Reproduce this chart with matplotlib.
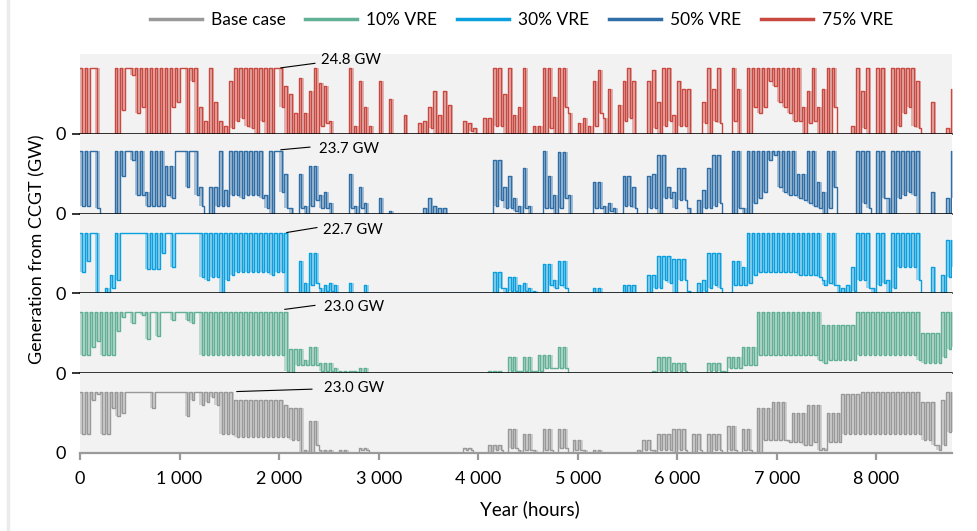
import numpy as np
import matplotlib
matplotlib.use('Agg')
import matplotlib.pyplot as plt
from matplotlib.lines import Line2D

HOURS_IN_YEAR = 8760
BIN_HOURS = 50

series_names = ['Base case', '10% VRE', '30% VRE', '50% VRE', '75% VRE']
peak_labels = ['23.0 GW', '23.0 GW', '22.7 GW', '23.7 GW', '24.8 GW']
x_ticks = [0, 1000, 2000, 3000, 4000, 5000, 6000, 7000, 8000]
x_tick_labels = ['0', '1 000', '2 000', '3 000', '4 000', '5 000', '6 000', '7 000', '8 000']

vre75_hi = ([24.8, 24.8, 24.8, 24.8, 0, 0, 0, 24.8, 24.8, 24.8, 24.8, 24.8, 24.8, 24.8, 24.8, 24.8, 24.8, 24.8, 24.8, 24.8, 24.8, 24.8, 24.8, 24.8, 10]
            + [5, 24.8, 12, 5, 3, 20, 24.8, 24.8, 24.8, 24.8, 24.8, 24.8, 24.8, 24.8, 24.8, 24.8, 18, 15, 8, 21, 8, 16, 24.8, 19, 18]
            + [5, 0, 0, 0, 24.8, 3, 20, 10, 3, 0, 20, 0, 13, 0, 0, 7, 0, 0, 4, 5, 10, 16, 7, 16, 11]
            + [0, 0, 5, 4, 2, 0, 6, 6, 24.8, 24.8, 15, 24.8, 7, 10, 24.8, 0, 3, 3, 24.8, 24.8, 14, 24.8, 24.8, 8, 0]
            + [4, 6, 3, 20, 24, 6, 17, 0, 11, 20, 24.8, 20, 0, 0, 20, 24, 12, 24.8, 24.8, 7, 20, 17, 17, 0, 0]
            + [12, 24.8, 17, 24.8, 0, 0, 24.8, 17, 0, 24.8, 24.8, 24.8, 24.8, 24.8, 24.8, 24.8, 24.8, 24.8, 24.8, 24.8, 10, 16, 24.8, 10, 17]
            + [24.8, 24.8, 0, 0, 0, 3, 24.8, 16, 24.8, 0, 24.8, 24.8, 0, 24.8, 24.8, 24.8, 24.8, 24.8, 20, 0, 0, 12, 0, 0, 2, 17])
vre75_lo = ([0, 0, 24.8, 0, 0, 0, 0, 0, 9, 24.8, 22, 8, 10, 0, 0, 0, 0, 0, 10, 12, 24.8, 0, 20, 0, 0]
            + [0, 0, 0, 0, 0, 2, 5, 6, 3, 2, 0, 5, 0, 0, 24.8, 10, 0, 0, 0, 0, 0, 0, 0, 3, 4]
            + [0, 0, 0, 0, 0, 0, 0, 0, 0, 0, 0, 0, 0, 0, 0, 0, 0, 0, 0, 0, 2, 0, 0, 0, 0]
            + [0, 0, 0, 1, 0, 0, 0, 0, 3, 3, 0, 0, 0, 0, 0, 0, 0, 0, 0, 2, 0, 0, 10, 0, 0]
            + [0, 0, 0, 3, 8, 0, 0, 0, 0, 5, 6, 0, 0, 0, 0, 2, 0, 3, 5, 0, 3, 3, 0, 0, 0]
            + [4, 0, 5, 4, 0, 0, 5, 0, 0, 0, 10, 8, 10, 20, 18, 12, 10, 8, 5, 5, 0, 4, 5, 0, 0]
            + [0, 10, 0, 0, 0, 0, 0, 2, 0, 0, 0, 0, 0, 0, 3, 8, 10, 3, 2, 0, 0, 0, 0, 0, 0, 0])

T = 23.7
vre50_hi = ([T, T, T, T, 0, 0, 0, T, T, T, T, T, T, 8, T, T, T, 18, 18, T, T, T, T, T, 10]
            + [0, 10, 10, T, 9, T, T, T, T, T, T, T, 7, T, T, T, 15, 2, 0, 15, 3, 18, 18, 7, 8]
            + [4, 0, 0, 0, 15, 3, 10, 4, 0, 0, 6, 0, 1, 0, 0, 0, 0, 0, 0, 2, 6, 3, 2, 2, 0]
            + [0, 0, 0, 0, 0, 0, 0, 0, 20, 20, 10, 14, 6, 3, 17, 3, 0, 0, T, 14, 7, 23, 23, 7, 0]
            + [0, 0, 0, 12, 12, 3, 4, 2, 0, 14, 14, 10, 0, 0, 14, 15, 22, 22, 10, 8, 17, 17, 2, 0, 5]
            + [9, 17, 22, 22, 0, 0, T, T, 2, T, T, T, T, T, T, T, T, T, T, 15, 15, T, T, 12, 8]
            + [T, T, 0, 0, 0, 0, T, T, T, 0, T, T, 6, T, T, T, T, T, T, 0, 0, 8, 0, 0, 6, T])
vre50_lo = ([3, 3, T, 2, 0, 0, 0, 0, 14, T, 20, 7, 7, 3, 3, 3, 3, 7, 6, T, T, 10, T, 7, 3]
            + [0, 0, 3, 3, 3, 7, 7, 6, 7, 7, 7, 6, 2, 0, T, 8, 2, 0, 0, 2, 0, 3, 5, 2, 2]
            + [0, 0, 0, 0, 2, 0, 2, 0, 0, 0, 0, 0, 0, 0, 0, 0, 0, 0, 0, 0, 0, 0, 0, 0, 0]
            + [0, 0, 0, 0, 0, 0, 0, 0, 3, 5, 2, 2, 1, 0, 2, 0, 0, 0, 2, 2, 0, 2, 6, 0, 0]
            + [0, 0, 0, 2, 2, 0, 1, 0, 0, 3, 3, 2, 0, 0, 2, 2, 0, 6, 6, 2, 5, 5, 0, 0, 0]
            + [2, 2, 3, 4, 0, 0, 0, 2, 0, 0, 4, 6, 8, 20, 22, 10, 8, 7, 7, 6, 5, 4, 3, 2, 0]
            + [2, 10, 0, 0, 0, 0, 0, 4, 2, 0, 0, 6, 0, 0, 6, 7, 8, 7, 0, 0, 0, 0, 0, 0, 0, 6])

C = 22.7
vre30_hi = ([C, C, C, C, 0, 2, 7] + [C] * 18
            + [C] * 17 + [0, 0, 12, 4, 15, 15, 2, 3]
            + [4, 3, 0, 0, 4, 0, 0, 3] + [0] * 17
            + [0, 0, 0, 0, 0, 0, 0, 0, 8, 8, 2, 6, 6, 3, 4, 2, 1, 0, 11, 11, 5, 12, 12, 0, 0]
            + [0, 0, 0, 2, 2, 0, 0, 0, 0, 3, 3, 3, 0, 0, 7, 7, 14, 14, 14, 13, 13, 13, 1, 0, 4]
            + [5, 15, 15, 15, 0, 0, 12, 12, 10] + [C] * 15 + [5]
            + [C, C, 3, 2, 3, 10, C, C, C, 2, C, C, 5, C, C, C, C, C, C, 0, 0, 10, 0, 7, 20, 20])
vre30_lo = ([8, 12, C, 0, 0, 0, 2, 5, C, C, C, C, C, 9, 9, 9, 15, C, 10, C, C, C, C, C, 6]
            + [5, 6, 6, 0, 5, 7, 8, 8, 8, 8, 8, 8, 8, 7, 8, 8, 0, 0, 0, 0, 0, 3, 4, 0, 1]
            + [1] + [0] * 24
            + [0, 0, 0, 0, 0, 0, 0, 0, 0, 2, 0, 1, 1, 0, 1, 0, 0, 0, 0, 3, 2, 3, 2, 0, 0]
            + [0] * 15 + [2, 2, 5, 4, 0, 5, 5, 0, 0, 0]
            + [1, 2, 3, 2, 0, 0, 3, 3, 3, 4, 7, 8, 8, 8, 8, 8, 8, 8, 8, 7, 7, 7, 7, 6, 3]
            + [4, 3, 0, 0, 0, 1, 5, 5, 2, 0, 3, 4, 0, 2, 10, 10, 10, 10, 5, 0, 0, 0, 0, 0, 6, 10])

vre10_hi = ([23] * 25
            + [23] * 17 + [9, 9, 9, 5, 10, 10, 4, 4]
            + [4, 2, 1, 1, 1, 1, 2, 2] + [0] * 17
            + [0] * 7 + [1, 1, 1, 0, 6, 6, 1, 6, 6, 1, 7, 7, 7, 2, 10, 10, 0, 0]
            + [0] * 15 + [1, 6, 6, 6, 4, 4, 4, 0, 0, 0]
            + [0, 4, 4, 4, 1, 6, 6, 6, 10, 10, 10] + [23] * 13 + [18]
            + [18] * 6 + [23] * 13 + [15, 15, 15, 15, 23, 23, 23])
vre10_lo = ([7, 7, 10, 12, 7, 7, 7, 16, 21, 23, 19, 23, 22, 13, 23, 14, 23, 23, 20, 23, 23, 20, 19, 23, 7]
            + [7] * 16 + [1, 0, 3, 3, 3, 3, 3, 1, 1]
            + [1, 0, 0, 0, 1] + [0] * 20
            + [0] * 11 + [1, 1, 1, 1, 1, 1, 1, 2, 2, 2, 2, 2, 0, 0]
            + [0] * 16 + [1, 1, 1, 0, 1, 1, 0, 0, 0]
            + [0, 1, 1, 1, 0, 2, 2, 2, 3, 3, 3] + [7] * 12 + [5, 4]
            + [5] * 6 + [7] * 12 + [5, 4, 4, 4, 4, 6, 9, 10])

base_hi = ([23] * 25
           + [23] * 6 + [20] * 10 + [18, 17, 17, 17, 1, 12, 12, 1, 1]
           + [1, 0, 1, 1, 0, 0, 2, 2] + [0] * 17
           + [0, 0, 2, 2, 0, 0, 0, 3, 3, 3, 0, 9, 9, 1, 7, 7, 1, 0, 9, 9, 0, 9, 9, 0, 5]
           + [5, 1, 0, 1, 1, 0, 0, 0, 0, 0, 0, 0, 1, 5, 5, 1, 7, 7, 7, 9, 9, 9, 0, 7, 7]
           + [0, 7, 7, 7, 0, 10, 10, 0, 9, 9, 0, 17, 17, 17, 19, 19, 19, 5, 15, 15, 15, 18, 18, 18, 2]
           + [15, 15, 15, 22, 22, 22, 22] + [23] * 12 + [19, 19, 19, 3, 20, 23, 23])
base_lo = ([7, 7, 20, 22, 7, 7, 17, 14, 15, 23, 23, 23, 23, 23, 17, 23, 23, 23, 23, 23, 23, 14, 20, 23, 18]
           + [19, 21, 18, 7, 7, 7] + [6] * 10 + [6, 5, 5, 0, 0, 0, 3, 0, 0]
           + [0, 0, 0, 0, 0, 0, 1, 1] + [0] * 17
           + [0, 0, 1, 1, 0, 0, 0, 0, 1, 1, 0, 2, 2, 0, 1, 1, 0, 0, 1, 1, 0, 2, 2, 0, 1]
           + [1] + [0] * 12 + [1, 1, 0, 1, 1, 1, 0, 1, 1, 0, 0, 1]
           + [0, 0, 1, 1, 0, 1, 1, 0, 1, 1, 0, 0, 5, 5, 5, 5, 5, 4, 4, 4, 3, 3, 4, 1, 1]
           + [4, 4, 4] + [7] * 16 + [5, 5, 3, 1, 3, 8, 8])

# --- Style ---
plt.rcParams['font.family'] = ['Lato', 'DejaVu Sans']
colors = ['#999999', '#62b096', '#0aa0e0', '#2f6ea6', '#c9483f']
panel_bg = '#f2f2f2'

# peak annotation: (peak hour, peak GW, line end hour, line end GW, text hour, text GW)
peak_notes = [(1576, 23.1, 2330, 24.0, 2450, 24.4),
              (2058, 24.0, 2360, 25.5, 2450, 24.9),
              (2078, 22.9, 2380, 24.75, 2440, 24.0),
              (2018, 24.0, 2310, 25.0, 2400, 24.4),
              (2018, 24.8, 2360, 26.5, 2426, 27.9)]


def build_trace(hi, lo):
    """Turn per-block highs / lows into a stepped hourly trace."""
    starts = np.arange(len(hi)) * BIN_HOURS
    x = np.column_stack([starts, starts + BIN_HOURS / 2]).ravel()
    y = np.column_stack([hi, lo]).ravel()
    return np.append(x, HOURS_IN_YEAR), np.append(y, lo[-1])


data = [(base_hi, base_lo), (vre10_hi, vre10_lo), (vre30_hi, vre30_lo),
        (vre50_hi, vre50_lo), (vre75_hi, vre75_lo)]

fig, axes = plt.subplots(5, 1, figsize=(9.78, 5.31), dpi=100, sharex=True)
fig.subplots_adjust(left=0.0818, right=0.9734, top=0.8983, bottom=0.1469, hspace=0)

# panels top to bottom: 75%, 50%, 30%, 10%, base
for pos, ax in enumerate(axes):
    k = 4 - pos
    hi, lo = data[k]
    # band between block low and high gives the dense hourly look
    edges = np.append(np.arange(len(hi)) * BIN_HOURS, len(hi) * BIN_HOURS)
    ax.fill_between(edges, np.append(lo, lo[-1]), np.append(hi, hi[-1]), step='post',
                    color=colors[k], alpha=0.38, lw=0)
    x, y = build_trace(hi, lo)
    ax.plot(x, y, drawstyle='steps-post', color=colors[k], lw=1.0)

    ax.set_facecolor(panel_bg)
    ax.set_xlim(0, HOURS_IN_YEAR)
    ax.set_ylim(0, 30)
    for side in ['top', 'left', 'right']:
        ax.spines[side].set_visible(False)
    ax.set_yticks([0])
    ax.set_yticklabels(['0'])

    if pos < 4:
        ax.spines['bottom'].set_color('black')
        ax.spines['bottom'].set_linewidth(1.1)
        ax.tick_params(axis='y', length=6, width=1.1, color='black', pad=4, labelsize=13)
        ax.tick_params(axis='x', length=0)
    else:
        ax.spines['bottom'].set_color('#9a9a9a')
        ax.spines['bottom'].set_linewidth(1.6)
        ax.tick_params(axis='y', length=0, pad=10, labelsize=13)
        ax.tick_params(axis='x', length=5, width=1.6, color='#9a9a9a', labelsize=13, pad=8)

    # peak annotation
    px, py, lx, ly, tx, ty = peak_notes[k]
    ax.plot([px, lx], [py, ly], color='black', lw=0.8)
    ax.text(tx, ty, peak_labels[k], fontsize=10.8, va='center', ha='left')

axes[-1].set_xticks(x_ticks)
axes[-1].set_xticklabels(x_tick_labels)

# --- Labels ---
fig.text(0.0383, 0.530, 'Generation from CCGT (GW)', rotation=90, ha='center', va='center', fontsize=13)
fig.text(0.542, 0.041, 'Year (hours)', ha='center', va='center', fontsize=13.5)

# --- Legend ---
handles = [Line2D([0], [0], color=c, lw=2.5) for c in colors]
fig.legend(handles, series_names, loc='center', bbox_to_anchor=(0.533, 0.962), ncol=5,
           frameon=False, fontsize=12.5, handlelength=3.0, handletextpad=0.5, columnspacing=1.15)

# faint page edge on the left
fig.add_artist(Line2D([0.008, 0.008], [0, 1], color='#ebebeb', lw=2.5))

fig.savefig('out.png', dpi=100)
